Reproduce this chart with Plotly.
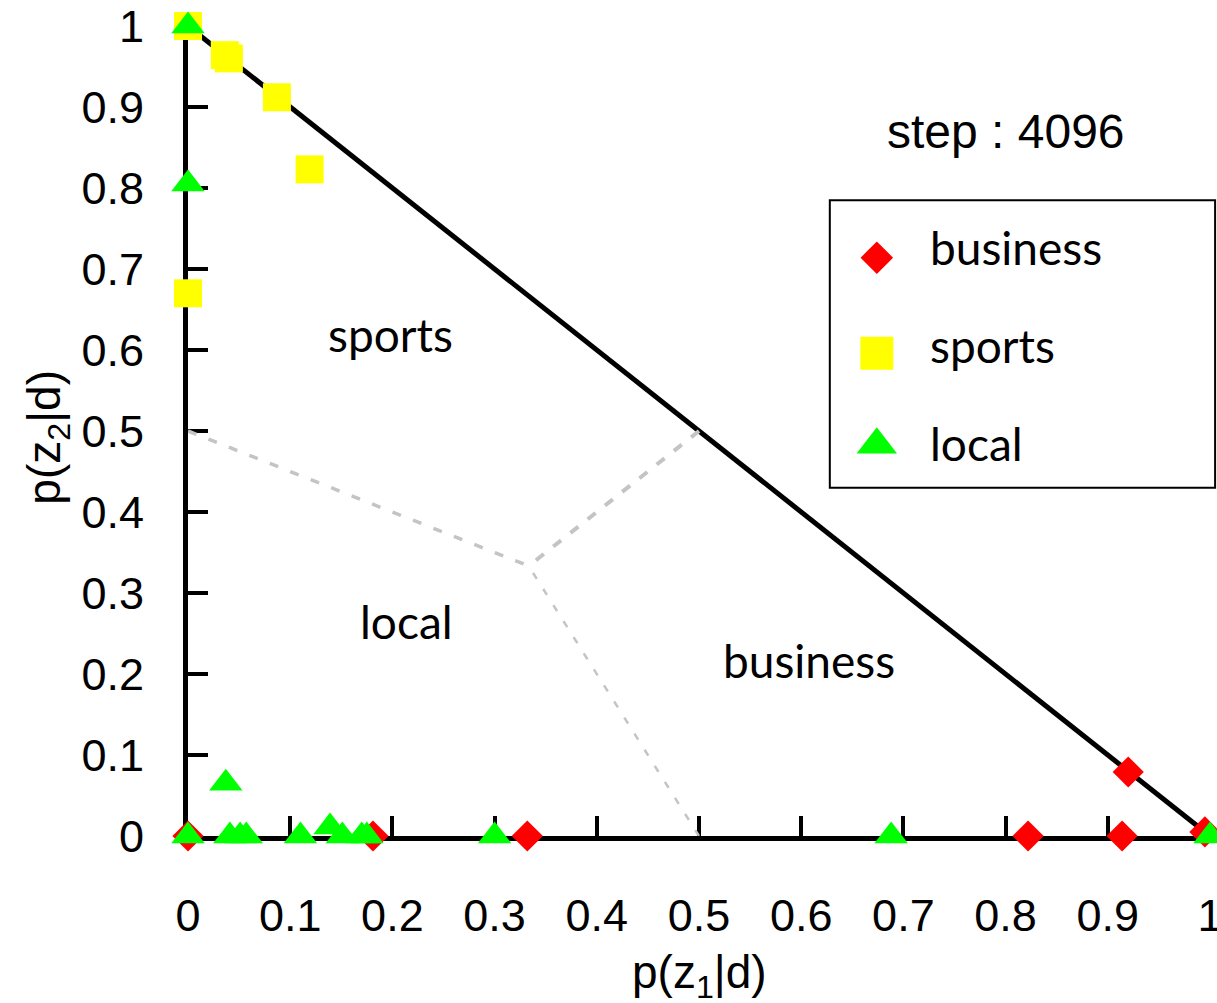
import plotly.graph_objects as go

# Document positions on the 2-simplex: p(z1|d) on x, p(z2|d) on y
business_x = [0.0, 0.181, 0.332, 0.822, 0.914, 0.920, 0.995]
business_y = [0.0, 0.0, 0.0, 0.0, 0.0, 0.079, 0.005]

sports_x = [0.0, 0.036, 0.040, 0.087, 0.119, 0.0]
sports_y = [1.0, 0.964, 0.960, 0.912, 0.823, 0.670]

local_x = [0.0, 0.0, 0.037, 0.0, 0.041, 0.051, 0.057, 0.110, 0.139,
           0.151, 0.170, 0.175, 0.300, 0.688, 1.0]
local_y = [1.0, 0.805, 0.065, 0.0, 0.0, 0.0, 0.0, 0.0, 0.011,
           0.0, 0.0, 0.0, 0.0, 0.0, 0.0]

# Simplex edge and decision boundaries meeting at the centroid
edge_x = [0.0, 1.0]
edge_y = [1.0, 0.0]
centroid = (1 / 3, 1 / 3)
boundary_ends = [(0.0, 0.5), (0.5, 0.5), (0.5, 0.0)]

tick_vals = [round(0.1 * i, 1) for i in range(11)]
tick_text = ["0", "0.1", "0.2", "0.3", "0.4", "0.5", "0.6", "0.7", "0.8", "0.9", "1"]

region_labels = [("sports", 0.198, 0.619), ("local", 0.214, 0.265), ("business", 0.608, 0.217)]
step_label = "step : 4096"

RED = "#ff0000"
YELLOW = "#ffff00"
GREEN = "#00ff00"
LABEL_FONT = "Lato, Noto Sans, sans-serif"
NUM_FONT = "Liberation Sans, Arial, sans-serif"
TITLE_FONT = "Liberation Sans Narrow, Liberation Sans, sans-serif"

fig = go.Figure()

fig.add_trace(go.Scatter(x=edge_x, y=edge_y, mode="lines",
                         line=dict(color="black", width=5),
                         showlegend=False, hoverinfo="skip"))

dash_styles = [("9px,13px", 3.5), ("10px,12px", 4), ("7px,12px", 2.5)]
for (bx, by), (dash, w) in zip(boundary_ends, dash_styles):
    fig.add_trace(go.Scatter(x=[bx, centroid[0]], y=[by, centroid[1]], mode="lines",
                             line=dict(color="#c4c4c4", width=w, dash=dash),
                             showlegend=False, hoverinfo="skip"))

fig.add_trace(go.Scatter(x=business_x, y=business_y, mode="markers", name="business",
                         marker=dict(symbol="diamond", size=24, color=RED, line=dict(width=0)),
                         cliponaxis=False, showlegend=False))
fig.add_trace(go.Scatter(x=sports_x, y=sports_y, mode="markers", name="sports",
                         marker=dict(symbol="square", size=28, color=YELLOW, line=dict(width=0)),
                         cliponaxis=False, showlegend=False))
fig.add_trace(go.Scatter(x=local_x, y=local_y, mode="markers", name="local",
                         marker=dict(symbol="triangle-up", size=29, color=GREEN, line=dict(width=0)),
                         cliponaxis=False, showlegend=False))

# Key box drawn on the plot area (axes span [0,1], so paper and data coincide)
key_entries = [("business", "diamond", 25, RED, 0.714, 0.727),
               ("sports", "square", 33, YELLOW, 0.596, 0.605),
               ("local", "triangle-up", 35, GREEN, 0.483, 0.485)]
for name, sym, sz, col, my, ty in key_entries:
    fig.add_trace(go.Scatter(x=[0.674], y=[my], mode="markers",
                             marker=dict(symbol=sym, size=sz, color=col, line=dict(width=0)),
                             cliponaxis=False, showlegend=False, hoverinfo="skip"))
    fig.add_annotation(x=0.724, y=ty, xref="paper", yref="paper", text=name,
                       showarrow=False, xanchor="left", yanchor="middle",
                       font=dict(family=LABEL_FONT, size=46, color="black"))
fig.add_shape(type="rect", xref="paper", yref="paper", x0=0.628, x1=1.005, y0=0.430, y1=0.785,
              line=dict(color="black", width=2), fillcolor="rgba(0,0,0,0)")

for text, x, y in region_labels:
    fig.add_annotation(x=x, y=y, text=text, showarrow=False,
                       xanchor="center", yanchor="middle",
                       font=dict(family=LABEL_FONT, size=46, color="black"))

fig.add_annotation(x=0.80, y=0.870, xref="paper", yref="paper", text=step_label,
                   showarrow=False, xanchor="center", yanchor="middle",
                   font=dict(family=NUM_FONT, size=48, color="black"))

# Axis titles
fig.add_annotation(x=0.5, y=-0.172, xref="paper", yref="paper", text="p(z<sub>1</sub>|d)",
                   showarrow=False, xanchor="center", yanchor="middle",
                   font=dict(family=TITLE_FONT, size=46, color="black"))
fig.add_annotation(x=-0.137, y=0.493, xref="paper", yref="paper", text="p(z<sub>2</sub>|d)",
                   textangle=-90, showarrow=False, xanchor="center", yanchor="middle",
                   font=dict(family=TITLE_FONT, size=46, color="black"))

axis_common = dict(range=[0, 1], showgrid=False, zeroline=False, showline=True,
                   linecolor="black", linewidth=5, ticks="inside", ticklen=20, tickwidth=4,
                   tickcolor="black", tickvals=tick_vals, ticktext=tick_text,
                   tickfont=dict(family=NUM_FONT, size=45, color="black"),
                   ticklabeloverflow="allow", automargin=False,
                   layer="below traces", fixedrange=True)

fig.update_xaxes(**axis_common, ticklabelstandoff=36)
fig.update_yaxes(**axis_common, ticklabelstandoff=30)

fig.update_layout(width=1217, height=1003, margin=dict(l=188, r=7, t=26, b=167, autoexpand=False),
                  plot_bgcolor="white", paper_bgcolor="white", showlegend=False)

fig.write_html("out.html")
